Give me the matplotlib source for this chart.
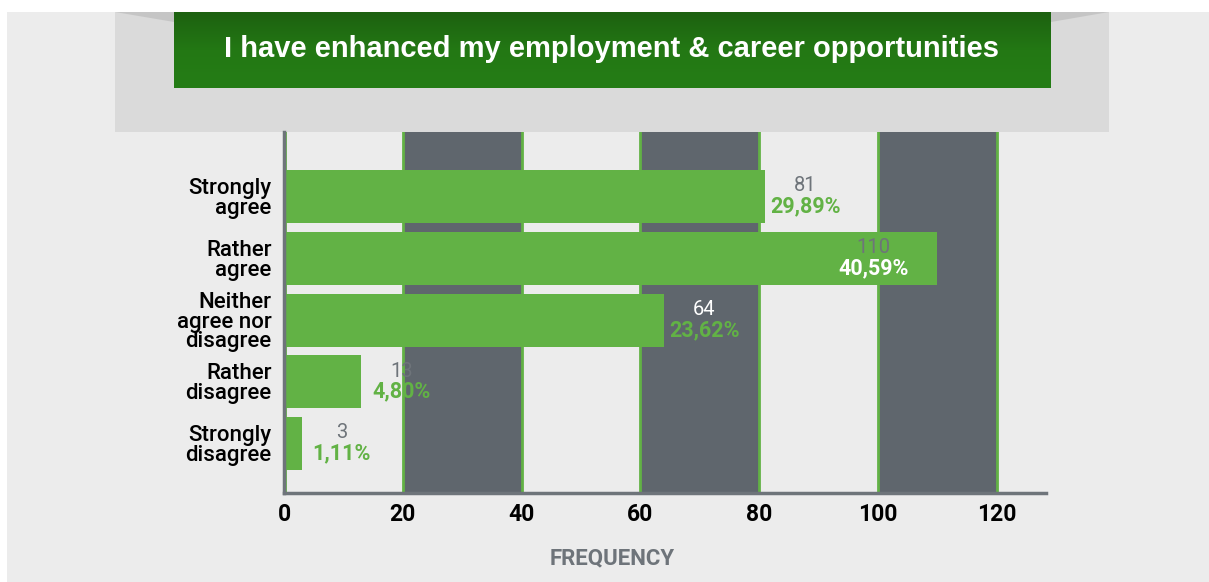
import matplotlib
matplotlib.use("Agg")
import matplotlib.pyplot as plt
import numpy as np
from matplotlib.patches import Rectangle, Polygon
from matplotlib.colors import LinearSegmentedColormap

# ---- data ----
categories = ["Strongly\nagree", "Rather\nagree", "Neither\nagree nor\ndisagree",
              "Rather\ndisagree", "Strongly\ndisagree"]
counts = [81, 110, 64, 13, 3]
percents = ["29,89%", "40,59%", "23,62%", "4,80%", "1,11%"]
xticks = [0, 20, 40, 60, 80, 100, 120]
title = "I have enhanced my employment & career opportunities"
xlabel = "FREQUENCY"

GREEN = "#62B245"
DARK = "#5F666D"
GREYTXT = "#6E747A"
PANEL = "#ECECEC"

W, H = 1209, 582
fig = plt.figure(figsize=(W / 100, H / 100), dpi=100)
fig.patch.set_facecolor("white")

# background axes in pixel coordinates
bg = fig.add_axes([0, 0, 1, 1])
bg.set_xlim(0, W)
bg.set_ylim(H, 0)
bg.axis("off")
bg.add_patch(Rectangle((7, 12), W - 7, H - 12, color=PANEL, lw=0))
bg.add_patch(Rectangle((115, 12), 994, 120, color="#DADADA", lw=0))
# curl shadows
bg.add_patch(Polygon([[115, 12], [174, 12], [174, 22]], closed=True, color="#B8B8B8", lw=0, alpha=0.6))
bg.add_patch(Polygon([[1051, 12], [1109, 12], [1051, 22]], closed=True, color="#B8B8B8", lw=0, alpha=0.6))
# green title box with gradient
grad = np.linspace(0, 1, 100).reshape(-1, 1)
cmap = LinearSegmentedColormap.from_list("g", ["#1D6110", "#237814", "#257D16"])
bg.imshow(grad, extent=(174, 1051, 88, 12), cmap=cmap, aspect="auto", zorder=2)
bg.text(612, 49, title, color="white", fontsize=21, fontweight="bold",
        family="Liberation Sans", ha="center", va="center", zorder=3)
bg.text(612, 558, xlabel, color=GREYTXT, fontsize=16, fontweight="bold",
        family="Roboto", ha="center", va="center")

# main axes
x0, x1, ytop, ybot = 284, 1046, 132, 493
ax = fig.add_axes([x0 / W, (H - ybot) / H, (x1 - x0) / W, (ybot - ytop) / H])
ax.set_facecolor(PANEL)
ax.set_xlim(0, 128.3)
ypos = np.arange(len(categories))
ax.set_ylim(4.8, -1.05)

for a in range(20, 121, 40):
    ax.axvspan(a, a + 20, color=DARK, lw=0, zorder=1)
for t in xticks:
    ax.axvline(t + (0.25 if t == 0 else 0), color=GREEN, lw=2, zorder=1.5)

ax.barh(ypos, counts, height=0.86, color=GREEN, zorder=3)

def in_dark(v):
    return any(a <= v <= a + 20 for a in range(20, 121, 40))

for i, (c, p) in enumerate(zip(counts, percents)):
    if c >= 100:
        dx = -64
        ccol, pcol = GREYTXT, "white"
    else:
        dx = 40
        ccol = "white" if in_dark(c + dx / 5.94) else GREYTXT
        pcol = GREEN
    ax.annotate(str(c), (c, i), xytext=(dx * 0.72, 7.8), textcoords="offset points",
                ha="center", va="center", color=ccol, fontsize=14.5, family="Roboto", zorder=5)
    ax.annotate(p, (c, i), xytext=(dx * 0.72, -7.0), textcoords="offset points",
                ha="center", va="center", color=pcol, fontsize=15.5, fontweight="bold",
                family="Roboto", zorder=5)

ax.set_yticks(ypos)
ax.set_yticklabels(categories, fontsize=16, family="Roboto", fontweight="medium",
                   linespacing=0.92)
ax.set_xticks(xticks)
ax.set_xticklabels([str(t) for t in xticks], fontsize=16.5, family="Roboto", fontweight="bold")
ax.tick_params(length=0)
ax.tick_params(axis="y", pad=9)
ax.tick_params(axis="x", pad=7)
for s in ["top", "right"]:
    ax.spines[s].set_visible(False)
for s in ["left", "bottom"]:
    ax.spines[s].set_color(GREYTXT)
    ax.spines[s].set_linewidth(2.5)
    ax.spines[s].set_zorder(4)

fig.savefig("out.png", dpi=100, facecolor=fig.get_facecolor())
